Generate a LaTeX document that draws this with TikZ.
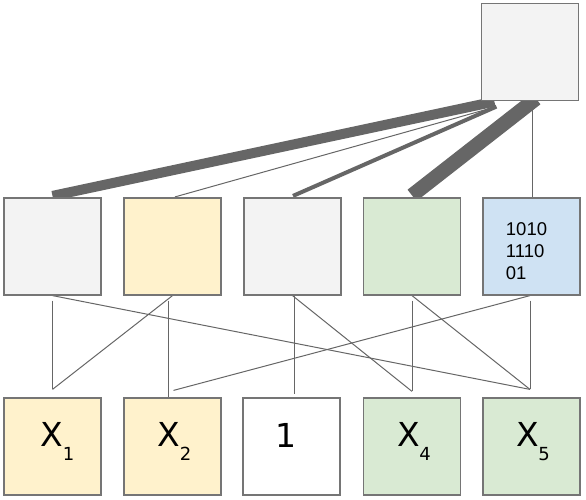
\documentclass[tikz,border=0pt]{standalone}
\usepackage{fontspec}
\setmainfont{Liberation Sans}
\newfontfamily\labelfont{DejaVu Sans}
\usetikzlibrary{backgrounds}

\definecolor{boxline}{HTML}{757575}
\definecolor{linkgray}{HTML}{666666}
\definecolor{fillgray}{HTML}{F3F3F3}
\definecolor{fillyellow}{HTML}{FFF2CC}
\definecolor{fillgreen}{HTML}{D9EAD3}
\definecolor{fillblue}{HTML}{CFE2F3}

\newcommand{\varsub}[1]{X\kern-0.5pt\raisebox{-14pt}{\fontsize{18}{18}\selectfont #1}}

\begin{document}
\begin{tikzpicture}[
  x=1pt, y=-1pt,
  every node/.style={inner sep=0pt},
  box/.style={draw=boxline, line width=1.2pt, minimum width=97pt, minimum height=97pt},
  link/.style={draw=linkgray, line width=1pt},
  heavy/.style={draw=linkgray, line width=#1},
  var/.style={anchor=base, font=\labelfont\fontsize{33}{33}\selectfont},
  bits/.style={align=left, font=\fontsize{18.5}{21.7}\selectfont}]

  \useasboundingbox (0,0) rectangle (586,500);

  % ---- boxes ------------------------------------------------------------
  \node[box, fill=fillgray]   (root) at (530,52) {};

  \node[box, fill=fillgray]   (m1) at (52.5,246.5) {};
  \node[box, fill=fillyellow] (m2) at (172.5,246.5) {};
  \node[box, fill=fillgray]   (m3) at (292.5,246.5) {};
  \node[box, fill=fillgreen]  (m4) at (412,246.5) {};
  \node[box, fill=fillblue]   (m5) at (531.5,246.5) {};

  \node[box, fill=fillyellow] (b1) at (52.5,446.5) {};
  \node[box, fill=fillyellow] (b2) at (172.5,446.5) {};
  \node[box, fill=white]      (b3) at (291.5,446.5) {};
  \node[box, fill=fillgreen]  (b4) at (412,446.5) {};
  \node[box, fill=fillgreen]  (b5) at (531.5,446.5) {};

  % ---- texts ------------------------------------------------------------
  \node[bits] (code) at (526.5,251.3) {1010\\1110\\01};

  \node[var] (x1)  at (57.5,446.5)  {\varsub{1}};
  \node[var] (x2)  at (174.5,446.5) {\varsub{2}};
  \node[var] (one) at (286,447)     {1};
  \node[var] (x4)  at (414,446.5)   {\varsub{4}};
  \node[var] (x5)  at (533,446.5)   {\varsub{5}};

  % ---- links ------------------------------------------------------------
  \begin{scope}[on background layer]
    % weights into the root: line width follows the drawn thickness
    \draw[heavy=10pt] ([yshift=1.5pt]m1.north) -- ([xshift=13.5pt,yshift=-0.5pt]root.south west);
    \draw[heavy=1pt]  ([xshift=2.5pt,yshift=0.5pt]m2.north) -- ([xshift=8.5pt,yshift=-7.5pt]root.south west);
    \draw[heavy=4pt]  ([xshift=0.5pt,yshift=1.5pt]m3.north) -- ([xshift=15.5pt,yshift=-5.5pt]root.south west);
    \draw[heavy=14.5pt] ([yshift=2pt]m4.north) -- ([xshift=6pt,yshift=2.5pt]root.south);
    \draw[link] ([xshift=2.5pt]root.south) -- ([xshift=2.5pt]root.south |- m5.north);

    % straight down
    \draw[link] ([yshift=-5pt]m1.south) -- ([yshift=8pt]b1.north);
    \draw[link] ([xshift=-4.5pt,yshift=-5pt]m2.south) -- ([xshift=-4.5pt]b2.north);
    \draw[link] ([xshift=2.2pt]m3.south) -- ([xshift=3.2pt,yshift=3pt]b3.north);
    \draw[link] ([yshift=-5pt]m4.south) -- ([yshift=6pt]b4.north);
    \draw[link] ([xshift=-1.5pt,yshift=-5pt]m5.south) -- ([xshift=-1.5pt,yshift=8pt]b5.north);

    % crossing
    \draw[link] (m1.south) -- ([xshift=-1.5pt,yshift=8pt]b5.north);
    \draw[link] (m2.south) -- ([yshift=8pt]b1.north);
    \draw[link] (m3.south) -- ([yshift=6pt]b4.north);
    \draw[link] (m4.south) -- ([xshift=-1.5pt,yshift=8pt]b5.north);
    \draw[link] ([xshift=-1.5pt]m5.south) -- ([xshift=1pt,yshift=7pt]b2.north);
  \end{scope}
\end{tikzpicture}
\end{document}
